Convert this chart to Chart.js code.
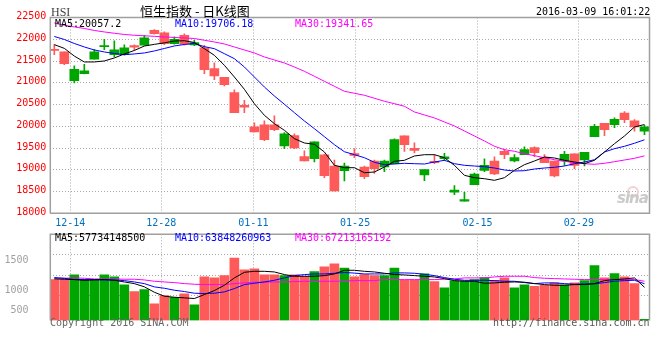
<!DOCTYPE html>
<html>
<head>
<meta charset="utf-8">
<script src="https://cdn.jsdelivr.net/npm/chart.js@4.4.1/dist/chart.umd.min.js"></script>
<style>
  html, body { margin: 0; padding: 0; background: #fff; }
  #wrap { position: relative; width: 660px; height: 360px; overflow: hidden; font-family: "DejaVu Sans Mono", monospace; font-size: 10px; }
  canvas { position: absolute; left: 0; }
  .t { position: absolute; white-space: nowrap; line-height: 10px; }
</style>
</head>
<body>
<div id="wrap">
  <canvas id="kChart" width="660" height="232" style="top:0;width:660px;height:232px"></canvas>
  <canvas id="volChart" width="660" height="132" style="top:228px;width:660px;height:132px"></canvas>

  <div class="t" style="left:51px;top:6px;font-family:'Liberation Serif',serif;font-size:12px;line-height:12px;color:#444">HSI</div>
  <div class="t" style="left:140px;top:4px;font-family:'Noto Sans CJK SC',sans-serif;font-size:13px;line-height:13px;color:#000">恒生指数 - 日K线图</div>
  <div class="t" style="left:536px;top:7px;color:#000">2016-03-09 16:01:22</div>

  <div class="t" style="left:55px;top:18.5px;color:#000">MA5:20057.2</div>
  <div class="t" style="left:175px;top:18.5px;color:#0000ff">MA10:19706.18</div>
  <div class="t" style="left:295px;top:18.5px;color:#ff00ff">MA30:19341.65</div>

  <div class="t" style="left:55px;top:233px;color:#000">MA5:57734148500</div>
  <div class="t" style="left:175px;top:233px;color:#0000ff">MA10:63848260963</div>
  <div class="t" style="left:295px;top:233px;color:#ff00ff">MA30:67213165192</div>

  <div class="t" style="left:50px;top:318px;color:#666">Copyright 2016 SINA.COM</div>
  <div class="t" style="left:493px;top:318px;color:#555">http://finance.sina.com.cn</div>

  <div style="position:absolute;left:627px;top:186px;width:8px;height:8px;border:2px solid #f4d0d0;border-radius:50%"></div>
  <div class="t" style="left:617px;top:191px;font-family:'DejaVu Sans',sans-serif;font-weight:bold;font-style:italic;font-size:15px;line-height:15px;letter-spacing:-1px;color:#cacaca">sina</div>
</div>

<script>
// x axis: tick positions (in candle index units) and their labels
const tickPos = [1.6, 10.7, 19.9, 30.07, 42.3, 52.44];
const tickLabels = ["12-14", "12-28", "01-11", "01-25", "02-15", "02-29"];

// daily candles, 2015-12-10 .. 2016-03-09 (60 sessions)
const open = [21760, 21709, 21050, 21211, 21540, 21831, 21647, 21647, 21854, 21862,
  22207, 22146, 21900, 22092, 21869, 21801, 21326, 21126, 20774, 20483,
  19985, 20031, 20031, 19548, 19785, 19303, 19257, 19341, 19088, 18981,
  19372, 19065, 19203, 19065, 19142, 19778, 19494, 18881, 19195, 19257,
  18483, 18276, 18659, 18988, 19203, 19425, 19203, 19349, 19510, 19280,
  19203, 19203, 19364, 19226, 19762, 20069, 20038, 20306, 20123, 19885];
const high = [21877, 21712, 21387, 21425, 21762, 22000, 21962, 21870, 21870, 22092,
  22222, 22169, 22054, 22123, 21975, 21862, 21456, 21126, 20835, 20598,
  20077, 20123, 20238, 19854, 19824, 19433, 19640, 19360, 19226, 19157,
  19487, 19088, 19226, 19226, 19709, 19778, 19617, 19004, 19349, 19379,
  18636, 18483, 18927, 19249, 19295, 19471, 19349, 19525, 19525, 19349,
  19203, 19425, 19364, 19402, 20046, 20069, 20192, 20337, 20153, 20023];
const low = [21647, 21418, 20996, 21203, 21540, 21762, 21594, 21632, 21747, 21862,
  22115, 21877, 21885, 21862, 21850, 21211, 21073, 20927, 20314, 20314,
  19870, 19670, 19900, 19487, 19487, 19203, 19180, 18820, 18513, 18743,
  19280, 18797, 18919, 18958, 19142, 19425, 19387, 18751, 19142, 19211,
  18429, 18276, 18659, 18958, 18889, 19257, 19180, 19349, 19303, 19165,
  18835, 19103, 19027, 19088, 19762, 19785, 19969, 20084, 19885, 19808];
const close = [21745, 21441, 21310, 21272, 21709, 21854, 21755, 21801, 21816, 22031,
  22130, 21900, 22000, 21885, 21922, 21303, 21157, 20958, 20314, 20437,
  19870, 19693, 19923, 19824, 19502, 19203, 19640, 18866, 18513, 19088,
  19333, 18843, 19027, 19203, 19693, 19579, 19448, 19004, 19165, 19295,
  18536, 18314, 18904, 19103, 18904, 19349, 19280, 19464, 19395, 19165,
  18858, 19356, 19103, 19402, 20000, 19923, 20161, 20153, 19985, 19985];

// price moving averages as drawn
const ma5 = [21876, 21791, 21614, 21478, 21478, 21501, 21570, 21662, 21742, 21844,
  21883, 21917, 21959, 21966, 21926, 21784, 21632, 21402, 21133, 20850,
  20519, 20253, 20060, 19908, 19715, 19616, 19586, 19409, 19103, 19048,
  19048, 18933, 18949, 19064, 19195, 19218, 19317, 19347, 19347, 19278,
  19103, 18873, 18818, 18795, 18758, 18818, 18988, 19117, 19202, 19294,
  19271, 19218, 19179, 19140, 19218, 19409, 19600, 19777, 19984, 20040];
const ma10 = [22064, 21995, 21903, 21823, 21754, 21708, 21674, 21646, 21662, 21685,
  21731, 21788, 21846, 21880, 21903, 21830, 21784, 21669, 21554, 21363,
  21133, 20903, 20696, 20506, 20313, 20122, 19945, 19761, 19577, 19415,
  19347, 19278, 19172, 19117, 19133, 19149, 19140, 19133, 19179, 19218,
  19140, 19103, 19087, 19071, 19041, 18995, 18972, 18979, 19018, 19041,
  19057, 19087, 19140, 19179, 19232, 19409, 19485, 19540, 19610, 19690];
const ma30 = [22375, 22322, 22283, 22248, 22202, 22168, 22138, 22110, 22092, 22080,
  22067, 22053, 22041, 22030, 22018, 21977, 21938, 21892, 21823, 21754,
  21685, 21593, 21524, 21455, 21363, 21264, 21149, 21034, 20919, 20805,
  20758, 20713, 20644, 20575, 20519, 20460, 20329, 20260, 20191, 20099,
  20007, 19892, 19777, 19662, 19540, 19462, 19425, 19370, 19324, 19278,
  19232, 19195, 19163, 19140, 19126, 19149, 19186, 19225, 19264, 19320];

// turnover (chart units) and its moving averages
const vol = [712, 712, 793, 712, 712, 793, 758, 619, 503, 538,
  289, 434, 405, 463, 272, 758, 741, 781, 1088, 880,
  897, 793, 793, 781, 793, 770, 851, 932, 984, 914,
  758, 799, 781, 781, 914, 700, 700, 810, 677, 567,
  689, 689, 712, 746, 700, 741, 567, 619, 596, 613,
  654, 619, 654, 694, 955, 741, 816, 758, 642, 20];
const vma5 = [723, 718, 712, 700, 706, 712, 700, 671, 642, 586,
  492, 422, 405, 394, 382, 451, 521, 613, 741, 839,
  856, 856, 845, 799, 770, 770, 770, 781, 810, 874,
  874, 856, 845, 822, 799, 793, 781, 770, 758, 729,
  694, 683, 683, 648, 654, 666, 671, 666, 642, 625,
  613, 613, 625, 625, 642, 694, 712, 723, 741, 577];
const vma10 = [747, 735, 712, 712, 712, 706, 706, 694, 671, 642,
  585, 561, 527, 504, 475, 469, 475, 498, 556, 625,
  648, 671, 700, 741, 781, 799, 810, 810, 822, 835,
  825, 810, 810, 810, 828, 828, 822, 804, 781, 747,
  718, 700, 700, 700, 694, 683, 683, 660, 642, 654,
  654, 642, 631, 637, 637, 660, 683, 694, 700, 640];
const vma30 = [735, 735, 741, 735, 723, 723, 723, 718, 718, 706,
  683, 671, 660, 642, 631, 625, 625, 625, 642, 654,
  666, 666, 671, 671, 677, 683, 683, 683, 683, 686,
  694, 694, 694, 712, 712, 712, 712, 712, 712, 718,
  723, 741, 741, 741, 758, 770, 770, 770, 747, 735,
  729, 723, 718, 712, 712, 712, 712, 712, 712, 683];

// volume panel: grid rows and the odd left labels
const volGrid = [429, 786, 1143, 1500];
const volTickVals = [168, 524, 1045];
const volTickLabels = ["500", "1000", "1500"];

const RED = "#ff5a5a";
const GREEN = "#00a600";
const GRID = "#a8a8a8";
const MONO = "'DejaVu Sans Mono', monospace";

Chart.defaults.font.family = MONO;
Chart.defaults.font.size = 10;

const colors = close.map((c, i) => (c >= open[i] ? GREEN : RED));
const pts = (arr) => arr.map((v, i) => ({ x: i, y: v }));

const frame = {
  id: "frame",
  afterDraw(chart, args, opts) {
    const { ctx, chartArea: a } = chart;
    ctx.save();
    ctx.strokeStyle = "#a0a0a0";
    ctx.lineWidth = 1.5;
    ctx.beginPath();
    ctx.moveTo(a.left, a.bottom);
    ctx.lineTo(a.left, a.top);
    ctx.lineTo(a.right, a.top);
    ctx.lineTo(a.right, a.bottom);
    if (opts.bottom) ctx.lineTo(a.left, a.bottom);
    ctx.stroke();
    ctx.restore();
  },
};

const maLine = (label, data, color) => ({
  type: "line",
  label,
  data: pts(data),
  borderColor: color,
  borderWidth: 1,
  pointRadius: 0,
  tension: 0,
  order: 0,
});

const xAxis = (height, showLabels) => ({
  type: "linear",
  min: -0.4,
  max: 59.5,
  offset: false,
  afterBuildTicks: (s) => { s.ticks = tickPos.map((v) => ({ value: v })); },
  afterFit: (s) => { s.height = height; },
  ticks: {
    display: showLabels,
    autoSkip: false,
    maxRotation: 0,
    padding: 4,
    color: "#0070c0",
    callback: (v, i) => tickLabels[i],
  },
  grid: { color: GRID, drawTicks: false, offset: false },
  border: { display: false, dash: [1, 2] },
});

new Chart(document.getElementById("kChart"), {
  type: "bar",
  data: {
    datasets: [
      maLine("MA5", ma5, "#000000"),
      maLine("MA10", ma10, "#0000ff"),
      maLine("MA30", ma30, "#ff00ff"),
      {
        label: "body",
        data: open.map((o, i) => ({ x: i, y: [o, close[i]] })),
        backgroundColor: colors,
        barThickness: 9,
        minBarLength: 1,
        grouped: false,
        order: 1,
      },
      {
        label: "wick",
        data: low.map((l, i) => ({ x: i, y: [l, high[i]] })),
        backgroundColor: colors,
        barThickness: 1,
        grouped: false,
        order: 2,
      },
    ],
  },
  options: {
    responsive: false,
    animation: false,
    events: [],
    layout: { padding: { top: 17.5, right: 10.5, left: 0, bottom: 0 } },
    plugins: { legend: { display: false }, tooltip: { enabled: false }, frame: { bottom: true } },
    scales: {
      x: xAxis(232 - 213.3, true),
      y: {
        min: 18000,
        max: 22500,
        afterFit: (s) => { s.width = 50.3; },
        ticks: { stepSize: 500, color: "#ff0000", padding: 4, labelOffset: -1, callback: (v) => String(v) },
        grid: { color: GRID, drawTicks: false },
        border: { display: false, dash: [1, 2] },
      },
    },
  },
  plugins: [frame],
});

new Chart(document.getElementById("volChart"), {
  type: "bar",
  data: {
    datasets: [
      maLine("MA5", vma5, "#000000"),
      maLine("MA10", vma10, "#0000ff"),
      maLine("MA30", vma30, "#ff00ff"),
      {
        label: "vol",
        data: pts(vol),
        backgroundColor: colors,
        barThickness: 9,
        grouped: false,
        order: 1,
      },
    ],
  },
  options: {
    responsive: false,
    animation: false,
    events: [],
    layout: { padding: { top: 6.3, right: 10.5, left: 0, bottom: 0 } },
    plugins: { legend: { display: false }, tooltip: { enabled: false }, frame: { bottom: false } },
    scales: {
      x: xAxis(132 - 92.5, false),
      y: {
        min: 0,
        max: 1500,
        weight: 0,
        afterBuildTicks: (s) => { s.ticks = volGrid.map((v) => ({ value: v })); },
        afterFit: (s) => { s.width = 21.8; },
        ticks: { display: false },
        grid: { color: GRID, drawTicks: false },
        border: { display: false, dash: [1, 2] },
      },
      yl: {
        position: "left",
        weight: 10,
        min: 0,
        max: 1500,
        afterBuildTicks: (s) => { s.ticks = volTickVals.map((v) => ({ value: v })); },
        afterFit: (s) => { s.width = 28.5; },
        ticks: { color: "#a0a0a0", padding: 0, callback: (v, i) => volTickLabels[i] },
        grid: { display: false, drawTicks: false },
        border: { display: false },
      },
    },
  },
  plugins: [frame],
});
</script>
</body>
</html>
